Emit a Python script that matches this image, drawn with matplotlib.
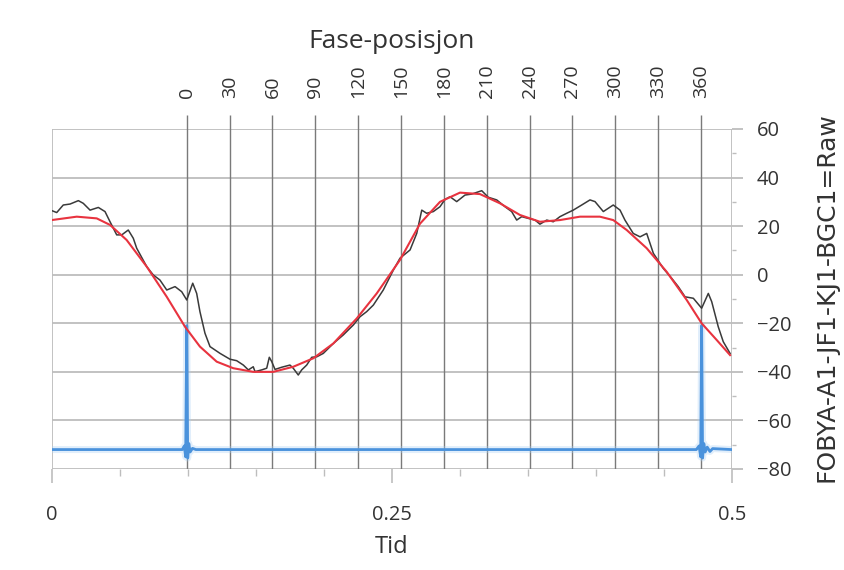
import matplotlib
matplotlib.use("Agg")
import matplotlib.pyplot as plt
from matplotlib.ticker import MultipleLocator

# ---- data ----
raw_t = [0.000, 0.0037, 0.0085, 0.0135, 0.0196, 0.0232, 0.0282, 0.0343, 0.0392, 0.0429,
         0.0478, 0.0515, 0.0563, 0.0600, 0.0625, 0.0699, 0.0747, 0.0796, 0.0846, 0.0907,
         0.0956, 0.0993, 0.1037, 0.1066, 0.1090, 0.1127, 0.1164, 0.1238, 0.1311, 0.1360,
         0.1409, 0.1446, 0.1482, 0.1495, 0.1544, 0.1581, 0.1600, 0.1618, 0.1642, 0.1691,
         0.1752, 0.1776, 0.1813, 0.1838, 0.1875, 0.1912, 0.1949, 0.1997, 0.2071, 0.2144,
         0.2218, 0.2267, 0.2316, 0.2365, 0.2438, 0.2512, 0.2561, 0.2635, 0.2684, 0.2721,
         0.2757, 0.2806, 0.2855, 0.2892, 0.2929, 0.2978, 0.3039, 0.3088, 0.3162, 0.3210,
         0.3272, 0.3333, 0.3382, 0.3419, 0.3456, 0.3504, 0.3554, 0.3590, 0.3640, 0.3688,
         0.3737, 0.3787, 0.3835, 0.3897, 0.3958, 0.3995, 0.4056, 0.4129, 0.4179, 0.4215,
         0.4276, 0.4326, 0.4375, 0.4424, 0.4497, 0.4559, 0.4607, 0.4657, 0.4718, 0.4779,
         0.4828, 0.4853, 0.4901, 0.4938, 0.4988]
raw_v = [26.4, 25.6, 28.7, 29.1, 30.5, 29.4, 26.6, 27.7, 26.0, 21.8,
         16.4, 16.4, 18.4, 15.0, 10.9, 3.3, -0.1, -2.2, -6.3, -4.9,
         -7.0, -10.4, -3.5, -7.7, -15.2, -24.1, -29.6, -32.4, -34.8, -35.4,
         -37.2, -39.2, -37.9, -39.9, -39.2, -38.5, -34.0, -35.8, -39.0, -38.1,
         -37.2, -38.5, -41.3, -39.2, -37.2, -34.0, -33.8, -32.4, -28.3, -24.8,
         -20.7, -17.3, -15.2, -12.5, -6.3, 1.9, 6.8, 10.2, 17.0, 26.6,
         25.3, 26.0, 28.0, 31.0, 32.1, 30.1, 32.8, 33.2, 34.6, 31.9,
         30.8, 28.0, 26.0, 22.5, 23.9, 23.2, 22.5, 20.8, 22.5, 21.8,
         23.9, 25.3, 26.6, 28.7, 30.8, 30.1, 26.0, 28.7, 26.6, 22.5,
         17.0, 15.6, 17.0, 8.8, 2.6, -1.5, -4.9, -9.1, -9.7, -13.8,
         -7.7, -11.1, -21.4, -27.6, -32.4]

fit_t = [0.000, 0.0184, 0.0331, 0.0429, 0.0551, 0.0699, 0.0846, 0.0980, 0.1090, 0.1213,
         0.1335, 0.1482, 0.1629, 0.1776, 0.1924, 0.2071, 0.2243, 0.2390, 0.2561, 0.2708,
         0.2855, 0.3002, 0.3149, 0.3296, 0.3443, 0.3590, 0.3737, 0.3884, 0.4031, 0.4129,
         0.4228, 0.4375, 0.4522, 0.4669, 0.4779, 0.4890, 0.4988]
fit_v = [22.5, 23.9, 23.2, 20.5, 14.3, 3.3, -9.1, -21.4, -29.6, -35.8,
         -38.5, -40.0, -40.0, -37.9, -34.4, -28.3, -18.0, -7.7, 6.1, 21.0,
         30.0, 33.8, 33.2, 29.4, 24.6, 21.8, 22.5, 23.9, 23.9, 22.5,
         18.4, 10.9, 1.2, -10.4, -20.0, -26.9, -33.1]

trig_t = [0.000, 0.0960, 0.0975, 0.0985, 0.0993, 0.1000, 0.1008, 0.1018, 0.1035, 0.1060,
          0.4740, 0.4760, 0.4772, 0.4779, 0.4786, 0.4795, 0.4805, 0.4820, 0.4840, 0.4860,
          0.5000]
trig_v = [-72.0, -72.0, -70.5, -75.0, -21.0, -75.5, -69.5, -73.0, -71.5, -72.0,
          -72.0, -70.5, -75.0, -21.0, -75.5, -69.5, -73.0, -71.0, -72.8, -71.6,
          -72.0]

t_zero = 0.0993      # phase 0 position in time
t_period = 0.3781    # one phase cycle (360 deg) in time
phase_ticks = list(range(0, 361, 30))
y_ticks = [-80, -60, -40, -20, 0, 20, 40, 60]
x_ticks = [0, 0.25, 0.5]
x_ticklabels = ["0", "0.25", "0.5"]

# ---- figure ----
plt.rcParams['font.family'] = ['Open Sans', 'DejaVu Sans']
fig = plt.figure(figsize=(8.45, 5.7), dpi=100)
ax = fig.add_axes([51.7 / 845, 101 / 570, 680 / 845, 340 / 570])
ax.set_xlim(0, 0.5)
ax.set_ylim(-80, 60)
for s in ax.spines.values():
    s.set_visible(False)

light = '#bdbdbd'
dark = '#7a7a7a'
txt = '#333333'

# horizontal gridlines
for yv in y_ticks:
    ax.axhline(yv, color=light, lw=1.3, zorder=1)
ax.axvline(0, color=light, lw=1.3, zorder=1)
ax.axvline(0.5, color=light, lw=1.3, zorder=1)


def t2p(t):
    return (t - t_zero) / t_period * 360.0


def p2t(p):
    return t_zero + p / 360.0 * t_period


for p in phase_ticks:
    ax.axvline(p2t(p), color=dark, lw=1.0, zorder=1.5)

# series
ax.plot(trig_t, trig_v, color='#a9d0f5', lw=5.0, alpha=0.35, zorder=1.8,
        solid_joinstyle='round')
ax.plot(trig_t, trig_v, color='#4a92dc', lw=2.0, zorder=2, solid_joinstyle='round')
ax.plot(raw_t, raw_v, color='#3a3a3a', lw=1.1, zorder=3)
ax.plot(fit_t, fit_v, color='#e8333f', lw=1.5, zorder=4)

# bottom axis
ax.set_xticks(x_ticks)
ax.set_xticklabels(x_ticklabels)
ax.xaxis.set_minor_locator(MultipleLocator(0.05))
ax.tick_params(axis='x', which='major', length=10, width=1.2, color=light,
               pad=16, labelsize=14.5, labelcolor=txt)
ax.tick_params(axis='x', which='minor', length=5, width=1.0, color=light)
ax.set_xlabel("Tid", fontsize=17, color=txt, labelpad=7)

# right axis
ax.yaxis.tick_right()
ax.yaxis.set_label_position('right')
ax.set_yticks(y_ticks)
ax.yaxis.set_minor_locator(MultipleLocator(10))
ax.tick_params(axis='y', which='major', length=8, width=1.3, color=light,
               pad=10, labelsize=14.5, labelcolor=txt)
ax.tick_params(axis='y', which='minor', length=3, width=1.0, color=light)
ax.set_ylabel("FOBYA-A1-JF1-KJ1-BGC1=Raw", fontsize=18, color=txt,
              family=['DejaVu Sans'], labelpad=8)
ax.yaxis.set_label_coords(1.122, 0.505)

# top phase axis
sec = ax.secondary_xaxis('top', functions=(t2p, p2t))
for s in sec.spines.values():
    s.set_visible(False)
sec.set_xticks(phase_ticks)
sec.set_xticklabels([str(p) for p in phase_ticks], rotation=90)
sec.tick_params(axis='x', length=10, width=1.0, color=dark, pad=12,
                labelsize=14, labelcolor=txt)
sec.set_xlabel("Fase-posisjon", fontsize=19, color=txt, labelpad=12)

fig.savefig("out.png", dpi=100)
